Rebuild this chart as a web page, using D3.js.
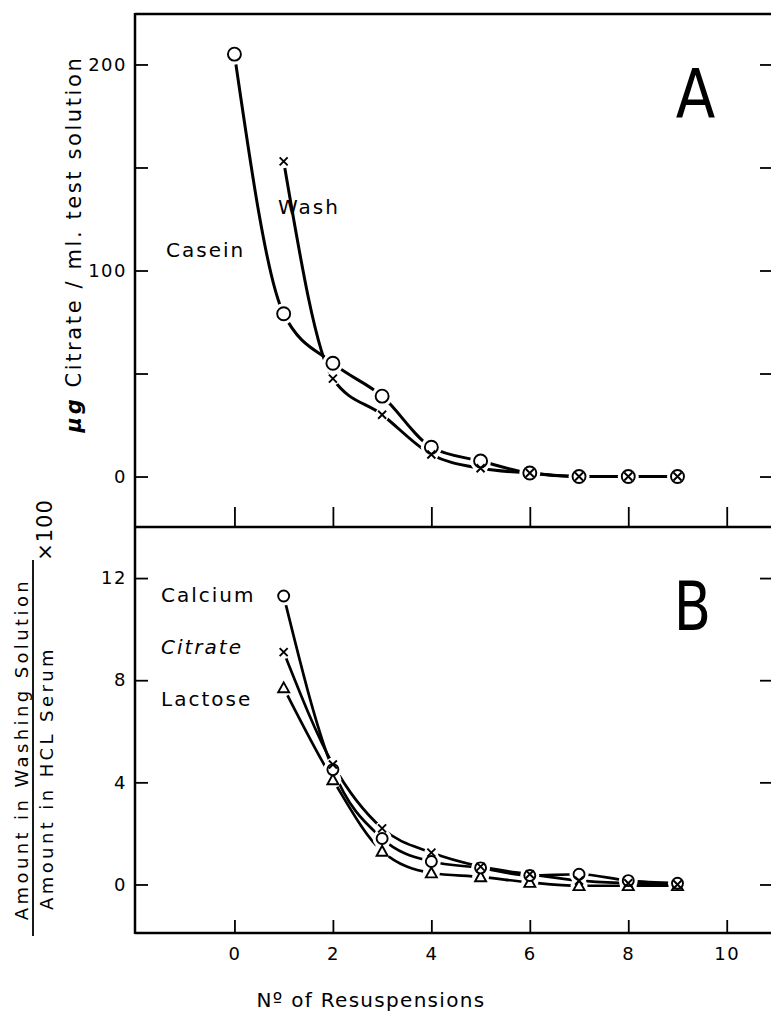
<!DOCTYPE html>
<html>
<head>
<meta charset="utf-8">
<script src="https://cdnjs.cloudflare.com/ajax/libs/d3/7.8.5/d3.min.js"></script>
<style>
  html, body { margin: 0; padding: 0; background: #fff; }
  svg { display: block; }
  text { font-family: "DejaVu Sans", sans-serif; fill: #000; }
</style>
</head>
<body>
<svg id="chart" width="771" height="1014"></svg>
<script>
// ---------- data ----------
const xTicks = [0, 2, 4, 6, 8, 10];
const topYTicks = [0, 50, 100, 150, 200];
const topYLabels = [0, 100, 200];
const bottomYTicks = [0, 4, 8, 12];
const bottomYLabels = [0, 4, 8, 12];

// Panel A
const caseinX = [0, 1, 2, 3, 4, 5, 6, 7, 8, 9];
const caseinY = [205, 79, 55, 39, 14.2, 7.5, 1.7, 0, 0, 0];
const washX = [1, 2, 3, 4, 5, 6, 7, 8, 9];
const washY = [153, 47.5, 30, 10.7, 4, 1.7, 0, 0, 0];

// Panel B
const bX = [1, 2, 3, 4, 5, 6, 7, 8, 9];
const calciumY = [11.3, 4.5, 1.8, 0.9, 0.65, 0.35, 0.4, 0.15, 0.05];
const citrateY = [9.1, 4.7, 2.2, 1.25, 0.7, 0.4, 0.15, 0.05, 0.0];
const lactoseY = [7.7, 4.1, 1.3, 0.45, 0.3, 0.08, -0.05, -0.05, -0.05];

const xTitle = "Nº of Resuspensions";
const topYTitle = ["μg", " Citrate / ml. test solution"];
const numerator = "Amount in Washing Solution";
const denominator = "Amount in HCL Serum";
const times100 = "×100";

// ---------- layout ----------
const svg = d3.select("#chart");
const L = 135, R = 773, T = 14, MID = 527, B = 933;

const x = d3.scaleLinear().domain([-2.02, 10.94]).range([L, R]);
const yA = d3.scaleLinear().domain([-24.5, 224.5]).range([MID, T]);
const yB = d3.scaleLinear().domain([-1.9, 14]).range([B, MID]);

// frame
const frame = svg.append("g").attr("stroke", "#000").attr("stroke-width", 2.5).attr("fill", "none");
frame.append("line").attr("x1", L).attr("x2", 771).attr("y1", T).attr("y2", T);
frame.append("line").attr("x1", L).attr("x2", 771).attr("y1", MID).attr("y2", MID);
frame.append("line").attr("x1", L).attr("x2", 771).attr("y1", B).attr("y2", B);
frame.append("line").attr("x1", L).attr("x2", L).attr("y1", T - 1).attr("y2", B + 1);

function styleAxis(g) {
  g.select(".domain").remove();
  g.selectAll(".tick line").attr("stroke", "#000").attr("stroke-width", 1.8);
  g.selectAll(".tick text").attr("font-family", "DejaVu Sans, sans-serif")
    .attr("font-size", 18).attr("letter-spacing", 1.5).attr("fill", "#000");
}

// Panel A axes
svg.append("g").attr("transform", `translate(${L},0)`)
  .call(d3.axisLeft(yA).tickValues(topYTicks).tickSizeInner(-13).tickSizeOuter(0).tickPadding(8)
    .tickFormat(d => topYLabels.includes(d) ? d : ""))
  .call(styleAxis);
svg.append("g").attr("transform", `translate(${R},0)`)
  .call(d3.axisRight(yA).tickValues(topYTicks).tickSizeInner(-13).tickSizeOuter(0).tickFormat(""))
  .call(styleAxis);
svg.append("g").attr("transform", `translate(0,${MID})`)
  .call(d3.axisBottom(x).tickValues(xTicks).tickSizeInner(-20).tickSizeOuter(0).tickFormat(""))
  .call(styleAxis);

// Panel B axes
svg.append("g").attr("transform", `translate(${L},0)`)
  .call(d3.axisLeft(yB).tickValues(bottomYTicks).tickSizeInner(-13).tickSizeOuter(0).tickPadding(8)
    .tickFormat(d => bottomYLabels.includes(d) ? d : ""))
  .call(styleAxis);
svg.append("g").attr("transform", `translate(${R},0)`)
  .call(d3.axisRight(yB).tickValues(bottomYTicks).tickSizeInner(-13).tickSizeOuter(0).tickFormat(""))
  .call(styleAxis);
svg.append("g").attr("transform", `translate(0,${B})`)
  .call(d3.axisBottom(x).tickValues(xTicks).tickSizeInner(-13).tickSizeOuter(0).tickPadding(14))
  .call(styleAxis);

// ---------- curves ----------
function drawCurve(xs, ys, yScale, w) {
  const line = d3.line().x(d => x(d[0])).y(d => yScale(d[1])).curve(d3.curveMonotoneX);
  svg.append("path").datum(xs.map((v, i) => [v, ys[i]]))
    .attr("d", line).attr("fill", "none").attr("stroke", "#000")
    .attr("stroke-width", w).attr("stroke-linecap", "round");
}
drawCurve(caseinX, caseinY, yA, 3);
drawCurve(washX, washY, yA, 3);
drawCurve(bX, calciumY, yB, 2.7);
drawCurve(bX, citrateY, yB, 2.7);
drawCurve(bX, lactoseY, yB, 2.7);

// ---------- markers ----------
const halo = svg.append("g").attr("fill", "#fff");
const marks = svg.append("g").attr("fill", "none").attr("stroke", "#000");

function circles(xs, ys, yScale, r) {
  xs.forEach((v, i) => {
    halo.append("circle").attr("cx", x(v)).attr("cy", yScale(ys[i])).attr("r", r + 4);
    marks.append("circle").attr("cx", x(v)).attr("cy", yScale(ys[i])).attr("r", r)
      .attr("fill", "#fff").attr("stroke-width", 1.9);
  });
}
function crosses(xs, ys, yScale, s) {
  xs.forEach((v, i) => {
    const cx = x(v), cy = yScale(ys[i]);
    halo.append("circle").attr("cx", cx).attr("cy", cy).attr("r", s + 3);
    marks.append("path").attr("d", `M${cx - s},${cy - s}L${cx + s},${cy + s}M${cx - s},${cy + s}L${cx + s},${cy - s}`)
      .attr("stroke-width", 1.9);
  });
}
function triangles(xs, ys, yScale, s) {
  xs.forEach((v, i) => {
    const cx = x(v), cy = yScale(ys[i]);
    halo.append("circle").attr("cx", cx).attr("cy", cy).attr("r", s + 3);
    marks.append("path").attr("d", `M${cx},${cy - s}L${cx + s},${cy + s * 0.8}L${cx - s},${cy + s * 0.8}Z`)
      .attr("fill", "#fff").attr("stroke-width", 1.9);
  });
}
circles(caseinX, caseinY, yA, 6.5);
crosses(washX, washY, yA, 4);
triangles(bX, lactoseY, yB, 5.5);
circles(bX, calciumY, yB, 5.5);
crosses(bX, citrateY, yB, 4);

// ---------- labels ----------
function label(t, xx, yy, opts = {}) {
  return svg.append("text").attr("x", xx).attr("y", yy).text(t)
    .attr("font-size", opts.size || 20).attr("letter-spacing", opts.ls == null ? 2 : opts.ls)
    .attr("font-style", opts.italic ? "italic" : "normal")
    .attr("dominant-baseline", "central");
}
label("Wash", 278, 207);
label("Casein", 166, 250);
label("Calcium", 161, 595);
label("Citrate", 161, 647, { italic: true });
label("Lactose", 161, 699);

svg.append("text").text("A").attr("transform", "translate(695.5,118) scale(0.85,1)")
  .attr("text-anchor", "middle").attr("font-family", "Liberation Sans, Arial, sans-serif")
  .attr("font-size", 68);
svg.append("text").text("B").attr("transform", "translate(692.5,630) scale(0.8,1)")
  .attr("text-anchor", "middle").attr("font-family", "Liberation Sans, Arial, sans-serif")
  .attr("font-size", 68);

// x title
svg.append("text").text(xTitle).attr("x", 371).attr("y", 1000)
  .attr("text-anchor", "middle").attr("dominant-baseline", "central")
  .attr("font-size", 20).attr("letter-spacing", 1.3);

// top y title
const tt = svg.append("text").attr("transform", "translate(74,244) rotate(-90)")
  .attr("text-anchor", "middle").attr("dominant-baseline", "central")
  .attr("font-size", 21).attr("letter-spacing", 2.6);
tt.append("tspan").text(topYTitle[0]).attr("font-weight", "bold").attr("font-style", "italic");
tt.append("tspan").text(topYTitle[1]);

// bottom y title (fraction)
svg.append("text").text(numerator).attr("transform", "translate(21,749) rotate(-90)")
  .attr("text-anchor", "middle").attr("dominant-baseline", "central")
  .attr("font-size", 18).attr("letter-spacing", 3.4);
svg.append("line").attr("x1", 33).attr("x2", 33).attr("y1", 560).attr("y2", 936)
  .attr("stroke", "#000").attr("stroke-width", 1.8);
svg.append("text").text(denominator).attr("transform", "translate(46,778) rotate(-90)")
  .attr("text-anchor", "middle").attr("dominant-baseline", "central")
  .attr("font-size", 18).attr("letter-spacing", 3.4);
svg.append("text").text(times100).attr("transform", "translate(45,530) rotate(-90)")
  .attr("text-anchor", "middle").attr("dominant-baseline", "central")
  .attr("font-size", 21).attr("letter-spacing", 1);
</script>
</body>
</html>
